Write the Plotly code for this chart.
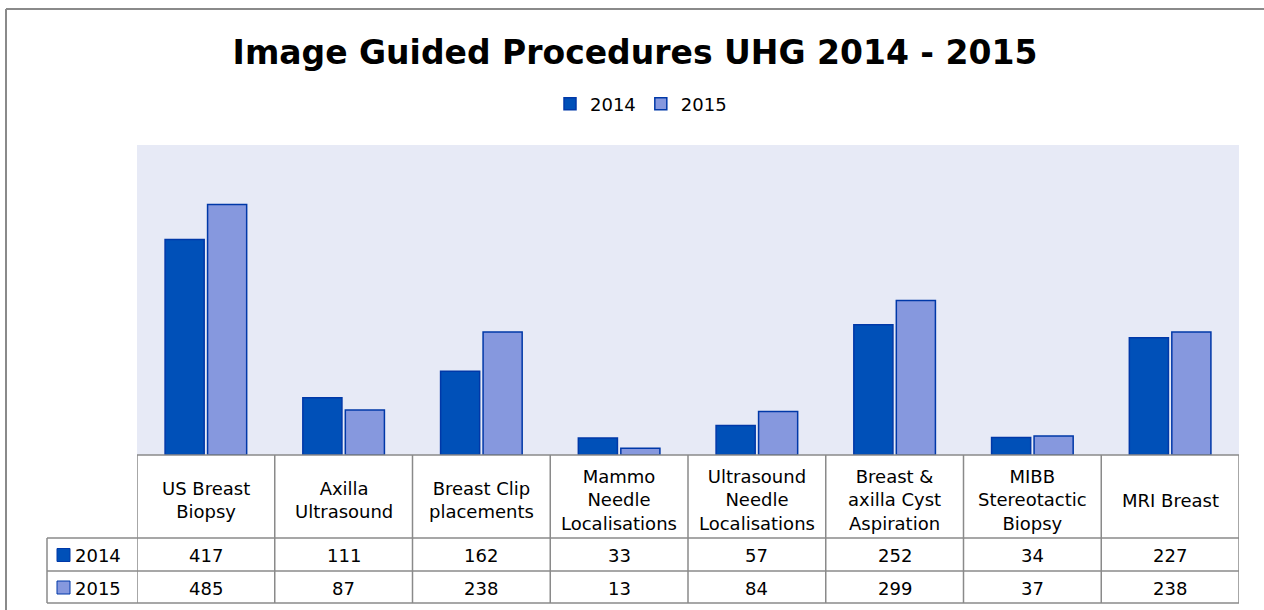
import plotly.graph_objects as go

categories = ["US Breast<br>Biopsy", "Axilla<br>Ultrasound", "Breast Clip<br>placements",
              "Mammo<br>Needle<br>Localisations", "Ultrasound<br>Needle<br>Localisations",
              "Breast &<br>axilla Cyst<br>Aspiration", "MIBB<br>Stereotactic<br>Biopsy", "MRI Breast"]
series_names = ["2014", "2015"]
values_2014 = [417, 111, 162, 33, 57, 252, 34, 227]
values_2015 = [485, 87, 238, 13, 84, 299, 37, 238]

W, H = 1264, 610
L, R, T, B = 137, 1239, 145, 455  # plot area pixels


def px(p):
    return (p - L) / (R - L)


def py(p):
    return (B - p) / (B - T)


dark = "#0050B8"
light = "#8698DE"
edge = "#0038A8"
grid = "#8A8A8A"
FONT = "DejaVu Sans"
FS = 18

fig = go.Figure()
fig.add_trace(go.Bar(x=list(range(len(categories))), y=values_2014, name=series_names[0],
                     marker=dict(color=dark, line=dict(color=edge, width=1.5))))
fig.add_trace(go.Bar(x=list(range(len(categories))), y=values_2015, name=series_names[1],
                     marker=dict(color=light, line=dict(color=edge, width=1.5))))

shapes = []
annotations = []

# outer frame (top & left visible)
shapes.append(dict(type="line", xref="paper", yref="paper", x0=px(6), x1=px(1270), y0=py(9), y1=py(9),
                   line=dict(color=grid, width=2)))
shapes.append(dict(type="line", xref="paper", yref="paper", x0=px(6), x1=px(6), y0=py(9), y1=py(615),
                   line=dict(color=grid, width=2)))

# table grid
row_lines = [(455, L), (538, 47), (571, 47), (603, 47)]
for yy, xs in row_lines:
    shapes.append(dict(type="line", xref="paper", yref="paper", x0=px(xs), x1=px(R), y0=py(yy), y1=py(yy),
                       line=dict(color=grid, width=1.5)))
for i in range(len(categories) + 1):
    shapes.append(dict(type="line", xref="x", yref="paper", x0=i - 0.5, x1=i - 0.5, y0=py(455), y1=py(603),
                       line=dict(color=grid, width=1.5)))
shapes.append(dict(type="line", xref="paper", yref="paper", x0=px(47), x1=px(47), y0=py(538), y1=py(603),
                   line=dict(color=grid, width=1.5)))

# header labels
for i, c in enumerate(categories):
    annotations.append(dict(x=i, y=py(500), xref="x", yref="paper", text=c, showarrow=False,
                            font=dict(family=FONT, size=FS, color="#000"), xanchor="center", yanchor="middle"))

# rows
rows = [(series_names[0], values_2014, dark, 555.5), (series_names[1], values_2015, light, 588)]
for name, vals, col, yc in rows:
    for i, v in enumerate(vals):
        annotations.append(dict(x=i, y=py(yc), xref="x", yref="paper", text=str(v), showarrow=False,
                                font=dict(family=FONT, size=FS, color="#000"), xanchor="center", yanchor="middle"))
    shapes.append(dict(type="rect", xref="paper", yref="paper", x0=px(57), x1=px(70),
                       y0=py(yc - 7), y1=py(yc + 6), fillcolor=col, line=dict(color=edge, width=1)))
    annotations.append(dict(x=px(73), y=py(yc), xref="paper", yref="paper", text=name, showarrow=False,
                            font=dict(family=FONT, size=FS, color="#000"), xanchor="left", yanchor="middle"))

fig.update_layout(
    width=W, height=H,
    margin=dict(l=L, r=W - R, t=T, b=H - B, autoexpand=False),
    paper_bgcolor="white", plot_bgcolor="#E7EAF6",
    barmode="group", bargap=0.383, bargroupgap=0.08,
    title=dict(text="<b>Image Guided Procedures UHG 2014 - 2015</b>", x=(635) / W, xanchor="center",
               y=1 - 52 / H, yanchor="middle", font=dict(family=FONT, size=33, color="#000")),
    legend=dict(orientation="h", x=px(641), xanchor="center", y=py(104), yanchor="middle",
                font=dict(family=FONT, size=FS, color="#000"), itemwidth=30, bgcolor="rgba(0,0,0,0)"),
    xaxis=dict(range=[-0.5, len(categories) - 0.5], showticklabels=False, showgrid=False, zeroline=False,
               ticks=""),
    yaxis=dict(range=[0, 600], showticklabels=False, showgrid=False, zeroline=False, ticks=""),
    shapes=shapes, annotations=annotations,
)

fig.write_html("out.html", config={"displayModeBar": False},
               post_script="document.body.style.margin='0px';")
